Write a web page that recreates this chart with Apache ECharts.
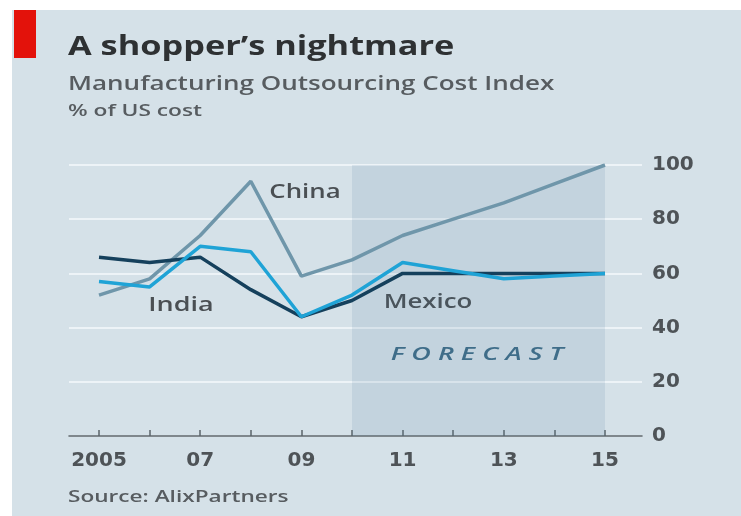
<!DOCTYPE html>
<html>
<head>
<meta charset="utf-8">
<script src="https://cdn.jsdelivr.net/npm/echarts@6/dist/echarts.min.js"></script>
<style>
html, body { margin: 0; padding: 0; background: #ffffff; }
#main { width: 741px; height: 516px; }
</style>
</head>
<body>
<div id="main"></div>
<script>
// years and series values, % of US cost
var years = [2005, 2006, 2007, 2008, 2009, 2010, 2011, 2012, 2013, 2014, 2015];
var labelYears = [2005, 2007, 2009, 2011, 2013, 2015];
var china = [52, 58, 74, 94, 59, 65, 74, 80, 86, 93, 100];
var india = [66, 64, 66, 54, 44, 50, 60, 60, 60, 60, 60];
var mexico = [57, 55, 70, 68, 44, 52, 64, 61, 58, 59, 60];
var yTicks = [0, 20, 40, 60, 80, 100];
var forecastFrom = 2010, forecastTo = 2015;

function pairs(vals){
    var out = [];
    for (var i = 0; i < years.length; i++) {
        out.push([years[i], vals[i]]);
    }
    return out;
}

var font = '"Open Sans", "Noto Sans", sans-serif';
var axisFont = '"DejaVu Sans", sans-serif';

// text drawn stretched sideways, like the wide face of the original
function txt(x, y, s, f, color, align, sx){
    return {
        type: 'text', x: x, y: y, scaleX: sx, originX: 0, originY: 0,
        style: { x: 0, y: 0, text: s, font: f, fill: color, align: align, verticalAlign: 'middle' }
    };
}

var myChart = echarts.init(document.getElementById('main'));
var option = {
    backgroundColor: '#ffffff',
    animation: false,
    grid: { left: 69, right: 99, top: 165, bottom: 80 },
    graphic: [
        { type: 'rect', z: -10, shape: { x: 12, y: 10, width: 729, height: 506 }, style: { fill: '#d5e1e8' } },
        { type: 'rect', shape: { x: 14, y: 10, width: 22, height: 48 }, style: { fill: '#e3120b' } },
        txt(68, 48, 'A shopper\u2019s nightmare', 'bold 26px ' + font, '#2e3133', 'left', 1.32),
        txt(68, 85, 'Manufacturing Outsourcing Cost Index', '600 19px ' + font, '#575c60', 'left', 1.37),
        txt(68, 111, '% of US cost', '600 16px ' + font, '#575c60', 'left', 1.42),
        txt(68, 497, 'Source: AlixPartners', '600 17px ' + font, '#575c60', 'left', 1.33),
        txt(305, 193, 'China', '600 19px ' + font, '#4a4f53', 'center', 1.36),
        txt(181, 306, 'India', '600 19px ' + font, '#4a4f53', 'center', 1.42),
        txt(428, 303, 'Mexico', '600 19px ' + font, '#4a4f53', 'center', 1.36),
        txt(477, 355, 'F O R E C A S T', 'italic 600 18px ' + font, '#3d6b87', 'center', 1.5)
    ],
    xAxis: {
        type: 'value',
        min: 2004.407,
        max: 2015.731,
        splitLine: { show: false },
        axisLine: { show: true, onZero: false, lineStyle: { color: '#5b6469', width: 1.5 } },
        axisTick: { show: true, inside: true, length: 6, customValues: years, lineStyle: { color: '#5b6469', width: 1.5 } },
        axisLabel: {
            customValues: labelYears,
            margin: 15,
            color: '#4e5357',
            fontFamily: axisFont,
            fontWeight: 'bold',
            fontSize: 20,
            formatter: function (v) {
                if (v === 2005) return '2005';
                return String(v).slice(2);
            }
        }
    },
    yAxis: {
        type: 'value',
        position: 'right',
        min: 0,
        max: 100,
        interval: 20,
        axisLine: { show: false },
        axisTick: { show: false },
        axisLabel: {
            customValues: yTicks,
            margin: 10,
            color: '#4e5357',
            fontFamily: axisFont,
            fontWeight: 'bold',
            fontSize: 20
        },
        splitLine: { lineStyle: { color: '#edf3f7', width: 2 } }
    },
    series: [
        {
            name: 'China', type: 'line', data: pairs(china), symbol: 'none', z: 3,
            lineStyle: { color: '#6f96aa', width: 3.5 },
            markArea: {
                silent: true,
                itemStyle: { color: 'rgba(80,125,155,0.13)' },
                data: [[{ coord: [forecastFrom, 100] }, { coord: [forecastTo, 0] }]]
            }
        },
        {
            name: 'India', type: 'line', data: pairs(india), symbol: 'none', z: 4,
            lineStyle: { color: '#15405c', width: 3.5 }
        },
        {
            name: 'Mexico', type: 'line', data: pairs(mexico), symbol: 'none', z: 5,
            lineStyle: { color: '#1fa3d6', width: 3.5 }
        }
    ]
};
myChart.setOption(option);
</script>
</body>
</html>
